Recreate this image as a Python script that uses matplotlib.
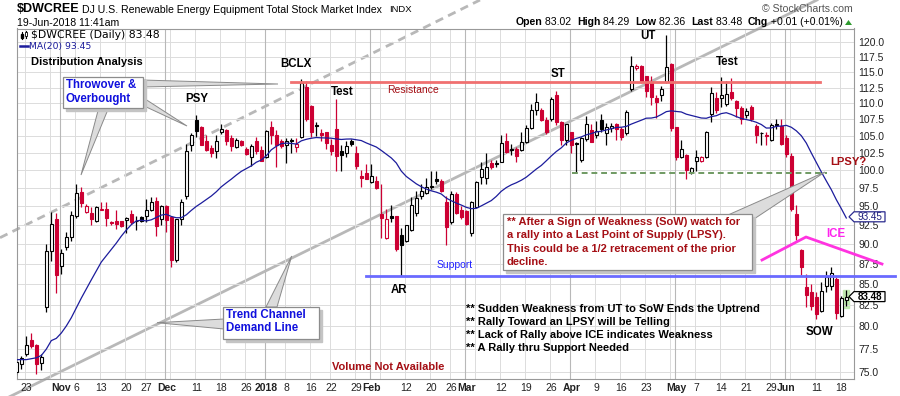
import numpy as np
import pandas as pd
import matplotlib
matplotlib.use("Agg")
import matplotlib.pyplot as plt
from matplotlib.patches import Rectangle, Polygon
from matplotlib.lines import Line2D
from matplotlib.ticker import NullLocator

plt.rcParams['font.family'] = ['Liberation Sans', 'DejaVu Sans']

# ---------------- data ----------------
holidays = ["2017-11-23", "2017-12-25", "2018-01-01", "2018-01-15",
            "2018-02-19", "2018-03-30", "2018-05-28"]
dates = pd.bdate_range("2017-10-19", "2018-06-19")
dates = dates[~dates.isin(pd.to_datetime(holidays))]

opens = [75.0, 75.85,
         76.95, 78.45, 77.95, 75.95, 82.27, 89.05, 93.25, 87.2, 89.6, 90.95,
         93.6, 96.9, 94.2, 94.1, 92.96, 94.5, 94.6, 92.75, 93.05, 92.96,
         93.1, 93.9, 93.0, 93.55, 93.6, 94.4, 95.65, 93.25, 94.95, 93.46,
         87.9, 93.25, 96.3, 103.6, 107.45, 106.3, 104.3, 103.2, 102.8, 105.6,
         105.9, 104.65, 103.35, 104.25, 103.1, 101.95, 104.25, 102.95, 101.95, 106.35,
         105.15, 104.2, 103.7, 104.35, 103.35, 104.9, 112.55, 109.6, 106.6, 105.5,
         105.65, 103.7, 106.1, 102.8, 102.5, 104.25, 102.5, 99.2, 99.65, 98.25,
         98.45, 93.9, 90.7, 93.6, 93.65, 91.2, 90.35, 91.8, 94.1, 96.4,
         96.8, 97.7, 98.75, 98.45, 95.6, 92.85, 96.6, 94.5, 94.3, 91.4,
         94.9, 99.05, 98.9, 100.95, 101.0, 101.2, 104.25, 103.0, 103.05, 102.95,
         104.15, 106.2, 109.0, 108.9, 107.45, 107.5, 111.3, 107.1, 104.4, 105.55,
         103.95, 101.4, 104.5, 105.9, 105.15, 107.45, 105.4, 106.2, 106.8, 106.1,
         105.4, 112.2, 115.7, 115.95, 114.4, 113.4, 110.9, 111.3, 113.4, 116.3,
         106.35, 101.85, 102.2, 99.75, 101.25, 101.25, 101.95, 108.4, 110.9, 110.8,
         109.85, 111.85, 110.35, 109.2, 108.15, 109.45, 106.45, 105.5, 105.05, 104.4,
         106.8, 106.45, 104.65, 102.1, 93.9, 89.2, 84.6, 84.0, 83.4, 81.8,
         84.8, 84.7, 85.65, 81.2, 83.02]
highs = [76.3, 76.7,
         78.9, 79.2, 78.0, 76.9, 90.0, 94.2, 94.0, 89.3, 91.6, 94.3,
         98.0, 97.6, 95.3, 94.9, 95.05, 95.5, 95.5, 93.0, 94.5, 93.05,
         93.5, 94.5, 93.65, 93.7, 96.0, 96.2, 96.2, 95.2, 95.15, 93.5,
         93.3, 95.9, 103.8, 105.5, 108.1, 106.5, 105.15, 103.7, 105.15, 106.8,
         106.0, 105.15, 104.7, 104.4, 103.4, 103.85, 104.9, 103.55, 105.9, 107.2,
         105.9, 104.6, 104.65, 104.65, 104.65, 113.8, 113.5, 109.8, 107.1, 106.1,
         105.65, 104.5, 110.6, 103.7, 104.2, 104.5, 103.5, 99.95, 100.8, 100.8,
         99.15, 98.1, 94.6, 95.15, 93.7, 92.1, 92.5, 96.2, 97.1, 98.1,
         98.85, 99.85, 99.85, 98.7, 96.4, 97.0, 96.9, 95.0, 94.5, 95.7,
         98.5, 101.1, 102.5, 101.4, 101.5, 105.2, 105.5, 103.8, 103.4, 105.65,
         106.6, 109.85, 111.6, 109.2, 107.8, 111.0, 111.9, 107.2, 106.6, 105.65,
         104.1, 104.8, 108.0, 106.8, 107.3, 108.4, 107.0, 107.0, 107.0, 106.4,
         109.0, 117.6, 116.3, 116.1, 114.4, 114.4, 111.3, 112.8, 121.3, 116.5,
         106.4, 104.4, 102.3, 100.5, 102.9, 102.1, 105.8, 112.6, 111.8, 114.2,
         113.6, 114.0, 110.5, 109.5, 109.25, 109.7, 106.75, 105.65, 105.65, 107.0,
         107.6, 107.5, 105.15, 102.5, 95.2, 89.3, 86.2, 85.0, 84.0, 85.2,
         86.6, 87.1, 85.85, 83.6, 84.29]
lows = [74.6, 75.3,
        76.7, 77.6, 74.8, 75.2, 81.7, 87.8, 83.9, 86.2, 89.2, 90.4,
        93.4, 94.8, 94.0, 92.5, 92.9, 94.4, 92.3, 92.4, 92.0, 92.2,
        91.4, 92.6, 91.8, 92.9, 92.9, 94.3, 91.0, 92.4, 91.6, 87.1,
        87.7, 92.4, 95.9, 102.8, 104.9, 103.6, 102.7, 101.95, 101.8, 105.3,
        103.7, 102.7, 103.2, 103.5, 102.2, 100.55, 102.25, 101.25, 101.8, 103.85,
        100.4, 103.2, 101.0, 102.5, 102.6, 104.7, 107.3, 104.9, 105.05, 104.3,
        103.1, 102.2, 99.85, 99.85, 101.9, 103.5, 100.1, 97.6, 98.7, 98.2,
        97.3, 90.8, 90.6, 92.9, 89.1, 86.0, 90.2, 91.7, 93.7, 96.0,
        96.7, 97.35, 98.0, 96.9, 89.9, 92.6, 93.95, 93.2, 92.4, 91.0,
        94.8, 98.1, 98.1, 100.2, 100.4, 101.1, 102.5, 102.2, 101.15, 102.7,
        104.0, 106.1, 108.1, 107.3, 105.3, 107.3, 106.6, 103.7, 103.7, 102.5,
        99.6, 101.1, 104.3, 104.1, 104.75, 105.65, 103.7, 105.65, 104.4, 104.4,
        105.15, 111.9, 115.3, 113.3, 111.0, 109.7, 107.75, 110.35, 113.2, 105.8,
        101.5, 101.8, 98.7, 99.4, 99.85, 101.1, 101.8, 107.1, 108.5, 109.4,
        109.5, 110.5, 107.85, 106.85, 107.65, 107.2, 103.9, 103.7, 103.7, 104.25,
        106.0, 103.7, 101.9, 94.35, 90.45, 86.1, 82.2, 81.85, 80.9, 81.7,
        84.0, 84.3, 80.8, 81.1, 82.36]
closes = [76.0, 76.5,
          77.95, 77.85, 75.85, 76.6, 89.05, 92.6, 86.1, 88.8, 90.85, 93.75,
          96.75, 95.4, 95.05, 93.25, 94.9, 94.65, 93.45, 92.7, 92.6, 92.33,
          93.4, 92.9, 92.95, 93.05, 94.5, 95.6, 92.35, 95.05, 93.15, 87.9,
          93.25, 95.6, 102.7, 105.15, 105.7, 103.7, 102.95, 102.5, 104.3, 106.1,
          104.3, 103.45, 104.4, 103.7, 102.35, 103.45, 102.8, 101.35, 105.75, 105.15,
          103.6, 103.5, 104.2, 104.25, 103.85, 113.2, 107.6, 105.6, 106.45, 105.15,
          103.95, 102.75, 102.1, 102.2, 103.55, 103.75, 100.55, 98.85, 98.75, 99.15,
          97.5, 93.4, 93.2, 93.35, 89.3, 89.9, 92.4, 95.15, 96.15, 97.1,
          97.6, 97.65, 98.45, 97.1, 92.2, 96.6, 94.1, 93.55, 92.55, 95.6,
          98.35, 100.1, 100.5, 100.45, 100.8, 104.0, 102.6, 102.85, 102.0, 104.15,
          106.2, 109.0, 110.15, 107.45, 105.65, 110.6, 107.1, 104.4, 106.85, 103.7,
          103.8, 104.65, 106.85, 104.15, 105.8, 106.0, 106.35, 106.5, 106.1, 104.8,
          108.7, 116.0, 115.95, 113.5, 111.9, 111.0, 110.15, 112.2, 115.8, 106.2,
          101.85, 103.1, 100.0, 100.3, 101.95, 101.9, 105.55, 111.6, 108.9, 111.3,
          111.4, 110.8, 109.2, 107.6, 108.75, 107.6, 105.15, 105.4, 105.0, 106.6,
          106.65, 103.85, 102.25, 94.6, 91.2, 87.1, 83.7, 82.4, 81.4, 84.2,
          85.9, 86.4, 81.6, 83.3, 83.48]

# MA(20) over the first days needs history from before the chart window
ma20_start = [76.3, 76.3, 76.3, 76.4, 76.5, 76.75, 77.45, 78.4, 78.65, 79.25,
              80.05, 81.0, 82.15, 83.3, 84.4, 85.5, 86.6, 87.7, 88.5, 89.3,
              90.1, 91.0, 91.8, 92.5, 93.0, 93.1]

resistance = 113.45
support = 86.0
lpsy_level = 99.6
y_ticks = np.arange(75.0, 120.01, 2.5)

# ---------------- layout helpers ----------------
W, H = 900, 396
AX_L, AX_R, AX_T, AX_B = 16.7, 854.0, 28.5, 379.0
RED = '#cc0033'
DARKRED = '#a50f15'
BLUE_TXT = '#1010dd'


def fx(px):
    return px / W


def fy(py):
    return 1 - py / H


def px2pos(px):
    return (px - 16.3) / 5.0


fig = plt.figure(figsize=(9, 3.96), dpi=100)
fig.patch.set_facecolor('white')
ax = fig.add_axes([fx(AX_L), fy(AX_B), (AX_R - AX_L) / W, (AX_B - AX_T) / H])
ax.set_facecolor('none')

o = np.array(opens)
h = np.array(highs)
lo = np.array(lows)
c = np.array(closes)
x = np.arange(len(dates))
prev = np.r_[o[0], c[:-1]]
edge = np.where(c < prev, RED, 'black')
face = np.where(c >= o, 'white', edge)

ma = pd.Series(closes).rolling(20).mean().to_numpy()
ma[:len(ma20_start)] = ma20_start

# scales
ax.set_yscale('log')
ax.set_ylim(74.22, 122.386)
ax.set_xlim(px2pos(AX_L), px2pos(AX_R))

# grid
for v in y_ticks:
    ax.axhline(v, color='#dcdcdc', lw=0.7, zorder=0)

month_k, week_k = [], []
for k in range(1, len(dates)):
    d, p = dates[k], dates[k - 1]
    if d.month != p.month:
        month_k.append(k)
    elif d.isocalendar()[1] != p.isocalendar()[1]:
        week_k.append(k)

tick_pos, tick_txt, tick_bold = [], [], []
for k in month_k:
    ax.axvline(k - 0.3, color='#b8b8b8', lw=0.8, zorder=0)
    d = dates[k]
    tick_pos.append(k)
    tick_txt.append(str(d.year) if d.month == 1 else d.strftime('%b'))
    tick_bold.append(True)
for k in week_k:
    ax.axvline(k - 0.3, color='#dcdcdc', lw=0.7, zorder=0)
    if min(abs(k - m) for m in month_k) > 2:
        tick_pos.append(k)
        tick_txt.append(str(dates[k].day))
        tick_bold.append(False)

# candles
ax.vlines(x, lo, h, colors=edge, lw=0.9, zorder=3)
ax.bar(x, np.maximum(np.abs(c - o), 0.1), bottom=np.minimum(o, c), width=0.68,
       color=face, edgecolor=edge, linewidth=0.8, zorder=4)
ax.plot(x, ma, color='#1c1c9c', lw=0.9, zorder=5)

# horizontal levels
ax.plot([px2pos(291), px2pos(820)], [resistance, resistance], color='#f07070', lw=2, zorder=6)
ax.plot([px2pos(366), px2pos(895)], [support, support], color='#6a6aff', lw=2, zorder=6, clip_on=False)
ax.plot([px2pos(571.7), px2pos(826.7)], [lpsy_level, lpsy_level], color='#6f9a62', lw=1.4,
        ls=(0, (3, 2)), zorder=6)

ax.set_yticks(y_ticks)
ax.set_yticklabels([f'{v:.1f}' for v in y_ticks])
ax.yaxis.set_minor_locator(NullLocator())
ax.yaxis.tick_right()
ax.tick_params(axis='y', length=0, pad=3, labelsize=7.5, colors='#222222')
ax.set_xticks(tick_pos)
ax.set_xticklabels(tick_txt)
for t, b in zip(ax.get_xticklabels(), tick_bold):
    if b:
        t.set_fontweight('bold')
ax.tick_params(axis='x', length=0, pad=3, labelsize=7.5, colors='#222222')
for s in ax.spines.values():
    s.set_color('#999999')
    s.set_linewidth(0.8)

# ---------------- figure-level drawings ----------------
def fline(pts, **kw):
    xs = [fx(p[0]) for p in pts]
    ys = [fy(p[1]) for p in pts]
    fig.add_artist(Line2D(xs, ys, transform=fig.transFigure, **kw))


def fpoly(pts, **kw):
    fig.add_artist(Polygon([(fx(a), fy(b)) for a, b in pts], closed=True,
                           transform=fig.transFigure, **kw))


def fbox(x0, y0, x1, y1, z=7):
    fig.add_artist(Rectangle((fx(x0 + 3), fy(y1 + 3)), (x1 - x0) / W, (y1 - y0) / H,
                             transform=fig.transFigure, color='#c4c4c4', zorder=z))
    fig.add_artist(Rectangle((fx(x0), fy(y1)), (x1 - x0) / W, (y1 - y0) / H,
                             transform=fig.transFigure, facecolor='white',
                             edgecolor='#8c8c8c', lw=0.9, zorder=z + 0.1))


def pointer(b1, b2, tip, z=6.5):
    fpoly([b1, b2, tip], facecolor='#dcdcdc', edgecolor='#8a8a8a', lw=0.7, zorder=z)


def ftext(px, py, s, **kw):
    kw.setdefault('va', 'center')
    kw.setdefault('ha', 'left')
    kw.setdefault('zorder', 9)
    return fig.text(fx(px), fy(py), s, **kw)


# trend channel lines
fline([(0, 237.7), (480, 0)], color='#b8b8b8', lw=2, ls=(0, (3, 2)), zorder=-1)
fline([(7, 398), (817, 0)], color='#b8b8b8', lw=2, zorder=-1)

# highlight behind last bar
fig.add_artist(Rectangle((fx(842.7), fy(308)), 6.6 / W, 18 / H, transform=fig.transFigure,
                         color='#bfe8ae', zorder=-0.5))

# ICE line
fline([(762, 260), (806, 237), (882, 264)], color='#ff33e0', lw=2, zorder=6)

# callouts
pointer((99, 107), (109, 107), (81, 175))
pointer((142, 80), (142, 87), (278, 84))
pointer((142, 97), (142, 105), (187, 126))
fbox(63.3, 77.3, 143.3, 108.3)
ftext(66, 85.3, 'Throwover &', color=BLUE_TXT, fontsize=8.3, fontweight='bold')
ftext(66, 98.7, 'Overbought', color=BLUE_TXT, fontsize=8.3, fontweight='bold')

pointer((266, 307), (277, 307), (291.7, 256))
pointer((224, 319), (224, 329), (157, 322.7))
fbox(223.3, 306.7, 319.3, 338.7)
ftext(226, 315.2, 'Trend Channel', color=BLUE_TXT, fontsize=8.3, fontweight='bold')
ftext(226, 328.2, 'Demand Line', color=BLUE_TXT, fontsize=8.3, fontweight='bold')

pointer((728, 215), (751, 221), (825, 172))
fbox(503.3, 214.3, 751.7, 270)
red_lines = ['** After a Sign of Weakness (SoW) watch for',
             'a rally into a Last Point of Supply (LPSY).',
             'This could be a 1/2 retracement of the prior',
             'decline.']
for k, s in enumerate(red_lines):
    ftext(506.7, 222.2 + 13.2 * k, s, color=DARKRED, fontsize=8, fontweight='bold')

# labels on the chart
ftext(30.7, 62, 'Distribution Analysis', fontsize=8, fontweight='bold')
ftext(185, 98.7, 'PSY', fontsize=8.3, fontweight='bold')
ftext(280, 63.8, 'BCLX', fontsize=8.3, fontweight='bold')
ftext(331, 92, 'Test', fontsize=8.3, fontweight='bold')
ftext(386.7, 89.7, 'Resistance', fontsize=7.5, color=DARKRED)
ftext(551, 73.8, 'ST', fontsize=8.3, fontweight='bold')
ftext(640.7, 36.2, 'UT', fontsize=8.3, fontweight='bold')
ftext(716, 62, 'Test', fontsize=8.3, fontweight='bold')
ftext(830.7, 161.8, 'LPSY?', fontsize=8.1, fontweight='bold', color=DARKRED)
ftext(826, 234.3, 'ICE', fontsize=8.3, fontweight='bold', color='#ff22ee')
ftext(806, 331.8, 'SOW', fontsize=8.3, fontweight='bold')
ftext(390.7, 289.8, 'AR', fontsize=8.3, fontweight='bold')
ftext(436.7, 265.5, 'Support', fontsize=7.5, color='#2020ff')
ftext(331.7, 367.3, 'Volume Not Available', fontsize=8, fontweight='bold', color=DARKRED)
notes = ['** Sudden Weakness from UT to SoW Ends the Uptrend',
         '** Rally Toward an LPSY will be Telling',
         '** Lack of Rally above ICE indicates Weakness',
         '** A Rally thru Support Needed']
for k, s in enumerate(notes):
    ftext(466, 309.3 + 12.9 * k, s, fontsize=8, fontweight='bold')

# legend inside the plot
fline([(22, 32), (22, 39)], color='black', lw=0.8, zorder=9)
fig.add_artist(Rectangle((fx(21), fy(38)), 2.2 / W, 4 / H, transform=fig.transFigure,
                         color='black', zorder=9))
fline([(26, 31), (26, 38)], color='black', lw=0.8, zorder=9)
fig.add_artist(Rectangle((fx(25), fy(36)), 2.2 / W, 3.5 / H, transform=fig.transFigure,
                         facecolor='white', edgecolor='black', lw=0.6, zorder=9.5))
ftext(30.5, 35.3, '$DWCREE (Daily) 83.48', fontsize=7.8, family='DejaVu Sans')
fline([(20, 46), (28, 46)], color='#1c1c9c', lw=1.8, zorder=9)
ftext(29.3, 46.3, 'MA(20) 93.45', fontsize=6.7, family='DejaVu Sans', color='#1c1c9c')

# value tags at the right edge
def tag(py, s, ec, tc, bold):
    fpoly([(849, py), (854, py - 5), (885, py - 5), (885, py + 5), (854, py + 5)],
          facecolor='white', edgecolor=ec, lw=0.9, zorder=8)
    ftext(869.5, py, s, ha='center', fontsize=7.1, color=tc,
          fontweight='bold' if bold else 'normal')


tag(216.8, '93.45', '#2b2b8f', '#1c1c7c', False)
tag(296.6, '83.48', 'black', 'black', True)

# header
ftext(16.7, 9.2, '$DWCREE', fontsize=9, fontweight='bold')
ftext(82.3, 9.8, 'DJ U.S. Renewable Energy Equipment Total Stock Market Index', fontsize=7.6)
ftext(389, 9.8, 'INDX', fontsize=6.8)
ftext(16.7, 22.7, '19-Jun-2018 11:41am', fontsize=7.6)
ftext(853, 9, '\u00a9 StockCharts.com', ha='right', fontsize=7.6, color='#555555')

renderer = fig.canvas.get_renderer()
runs = [('Open', True), (' 83.02  ', False), ('High', True), (' 84.29  ', False),
        ('Low', True), (' 82.36  ', False), ('Last', True), (' 83.48  ', False),
        ('Chg', True), (' +0.01 (+0.01%)', False)]
pieces = []
total = 0.0
for s, b in runs:
    t = ftext(0, 22.3, s, fontsize=7.6, fontweight='bold' if b else 'normal')
    wpx = t.get_window_extent(renderer).width
    pieces.append((t, wpx))
    total += wpx
cur = 843 - total
for t, wpx in pieces:
    t.set_x(fx(cur))
    cur += wpx
fpoly([(cur + 2, 25), (cur + 9, 25), (cur + 5.5, 20)], facecolor='#2e9a2e', edgecolor='none', zorder=9)

fig.savefig('out.png', dpi=100)
